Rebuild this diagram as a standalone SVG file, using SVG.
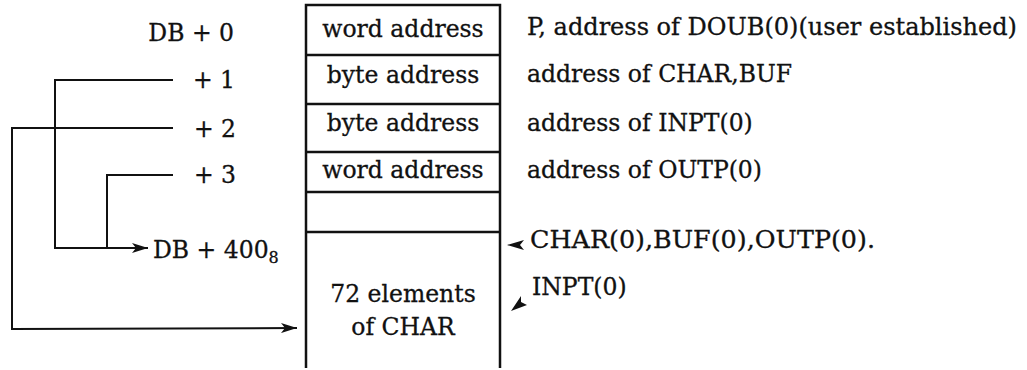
<svg xmlns="http://www.w3.org/2000/svg" width="1027" height="370" viewBox="0 0 1027 370">
<style>
text{font-family:"DejaVu Serif","Liberation Serif",serif;font-size:23.5px;fill:#111;stroke:#111;stroke-width:0.3}
.ln{stroke:#111;stroke-width:2;fill:none}
.bx{stroke:#111;stroke-width:2.5;fill:none}
.ah{fill:#111;stroke:none}
.c{text-anchor:middle}
.e{text-anchor:end}
</style>
<defs>
<marker id="arr" viewBox="0 0 16 10" refX="16" refY="5" markerWidth="16" markerHeight="10" markerUnits="userSpaceOnUse" orient="auto">
<path d="M0,0 L16,5 L0,10 L4,5 Z" class="ah"/>
</marker>
</defs>
<g id="memory-block">
<path class="bx" d="M306,368 V5 H500 V368"/>
<line class="bx" x1="306" y1="55" x2="500" y2="55"/>
<line class="bx" x1="306" y1="104" x2="500" y2="104"/>
<line class="bx" x1="306" y1="152" x2="500" y2="152"/>
<line class="bx" x1="306" y1="192" x2="500" y2="192"/>
<line class="bx" x1="306" y1="232" x2="500" y2="232"/>
</g>
<g id="cell0"><text class="c" x="403" y="37">word address</text></g>
<g id="cell1"><text class="c" x="403" y="83">byte address</text></g>
<g id="cell2"><text class="c" x="403" y="131">byte address</text></g>
<g id="cell3"><text class="c" x="403" y="178">word address</text></g>
<g id="cell4"></g>
<g id="cell-char"><text class="c" x="403" y="302">72 elements</text><text class="c" x="403" y="335">of CHAR</text></g>
<g id="left-labels">
<text class="e" x="234" y="41">DB + 0</text>
<text class="e" x="235" y="88">+ 1</text>
<text class="e" x="236" y="137">+ 2</text>
<text class="e" x="236" y="183">+ 3</text>
<text x="153" y="258">DB + 400<tspan font-size="16" dy="5">8</tspan></text>
</g>
<g id="right-labels">
<text x="527" y="35" textLength="490" lengthAdjust="spacingAndGlyphs">P, address of DOUB(0)(user established)</text>
<text x="527" y="82">address of CHAR,BUF</text>
<text x="527" y="131">address of INPT(0)</text>
<text x="527" y="178">address of OUTP(0)</text>
<text x="530" y="248" textLength="345" lengthAdjust="spacingAndGlyphs">CHAR(0),BUF(0),OUTP(0).</text>
<text x="532" y="295">INPT(0)</text>
</g>
<g id="connectors">
<polyline class="ln" points="173,80 55,80 55,248 148,248" marker-end="url(#arr)"/>
<polyline class="ln" points="173,175 107,175 107,248"/>
<polyline class="ln" points="173,128 12,128 12,329 297,328" marker-end="url(#arr)"/>
<path class="ah" d="M507,245 L524,240 L520,245 L524,250 Z"/>
<path class="ah" d="M511,311 L521,296 L521,302 L527,305 Z"/>
</g>
</svg>
